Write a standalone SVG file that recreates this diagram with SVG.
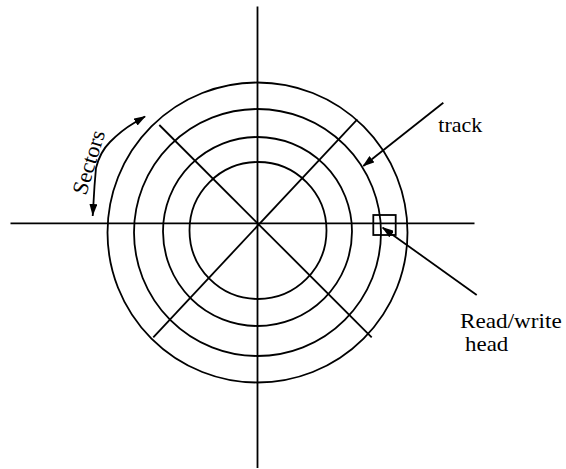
<svg xmlns="http://www.w3.org/2000/svg" width="566" height="469" viewBox="0 0 566 469">
<style>
.ln{fill:none;stroke:#000;stroke-width:1.8}
.lbl{font-family:"Liberation Serif","Times New Roman",serif;fill:#000}
</style>
<defs>
<marker id="ah" viewBox="0 0 12 8" refX="11" refY="4" markerWidth="12" markerHeight="8" markerUnits="userSpaceOnUse" orient="auto">
<path d="M0,0 L12,4 L0,8 Z" fill="#000"/>
</marker>
<marker id="ahs" viewBox="0 0 12 8" refX="0" refY="4" markerWidth="12" markerHeight="8" markerUnits="userSpaceOnUse" orient="auto">
<path d="M12,0 L0,4 L12,8 Z" fill="#000"/>
</marker>
</defs>
<rect width="566" height="469" fill="#fff"/>
<g id="disk">
<circle class="ln" cx="257.5" cy="232.5" r="150"/>
<circle class="ln" cx="257.5" cy="232.5" r="123.5"/>
<circle class="ln" cx="257.5" cy="231.5" r="94.5"/>
<circle class="ln" cx="258" cy="230.5" r="68.5"/>
<line class="ln" x1="257.5" y1="6.5" x2="257.5" y2="468"/>
<line class="ln" x1="10.5" y1="223.3" x2="474.5" y2="223.3"/>
<line class="ln" x1="159.3" y1="125" x2="371.7" y2="337.3"/>
<line class="ln" x1="357.3" y1="119.3" x2="153.3" y2="337.3"/>
</g>
<g id="head">
<rect class="ln" x="373.3" y="215" width="22.4" height="20"/>
</g>
<g id="connectors">
<line class="ln" x1="443.3" y1="102.7" x2="363.3" y2="166" marker-end="url(#ah)"/>
<line class="ln" x1="476.7" y1="295" x2="382.7" y2="227.7" marker-end="url(#ah)"/>
<path class="ln" d="M92.7,216 L94.5,186 L96,168 Q100,152 110,142 Q122,130 134,123 L145,116.5" marker-start="url(#ahs)" marker-end="url(#ah)"/>
</g>
<g id="labels">
<text class="lbl" x="438.3" y="131.7" font-size="21" textLength="44" lengthAdjust="spacingAndGlyphs">track</text>
<text class="lbl" x="460" y="328.3" font-size="21" textLength="101.7" lengthAdjust="spacingAndGlyphs">Read/write</text>
<text class="lbl" x="465" y="350.5" font-size="21" textLength="43.3" lengthAdjust="spacingAndGlyphs">head</text>
<text class="lbl" transform="translate(86,196) rotate(-73)" font-size="22" textLength="66" lengthAdjust="spacingAndGlyphs">Sectors</text>
</g>
</svg>
